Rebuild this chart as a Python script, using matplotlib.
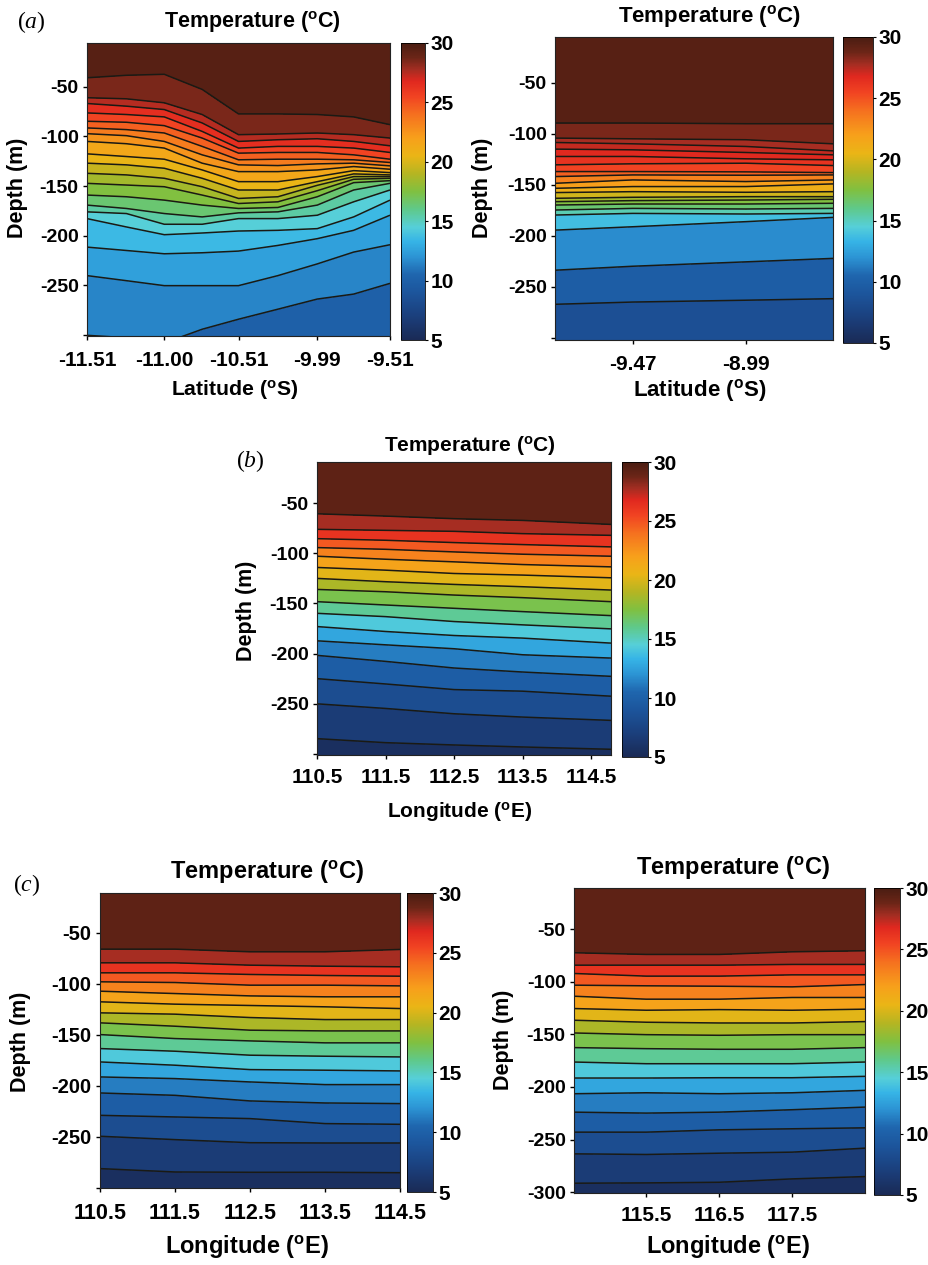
import numpy as np
import matplotlib
matplotlib.use('Agg')
import matplotlib.pyplot as plt
from matplotlib.colors import LinearSegmentedColormap, Normalize
from matplotlib.cm import ScalarMappable

plt.rcParams['font.family'] = ['Liberation Sans', 'DejaVu Sans']
plt.rcParams['font.weight'] = 'bold'
plt.rcParams['mathtext.fontset'] = 'custom'
plt.rcParams['mathtext.bf'] = 'Liberation Sans:bold'
plt.rcParams['mathtext.rm'] = 'Liberation Serif:normal'
plt.rcParams['mathtext.it'] = 'Liberation Serif:italic:normal'

W, H = 929, 1265

# isotherm depths (m), one row per temperature, one column per station
lat_a1 = [-11.51, -11.25, -11.00, -10.75, -10.51, -10.25, -9.99, -9.75, -9.51]
temps_a1 = [29, 28, 27, 26, 25, 24, 23, 22, 21, 20, 19, 18, 17, 16, 15, 14, 13, 12, 11]
depths_a1 = [
    [-41.0, -38.5, -37.5, -52.7, -77.4, -77.4, -78.0, -80.4, -88.2],
    [-61.1, -62.2, -66.2, -78.0, -98.3, -97.6, -96.6, -98.3, -101.7],
    [-66.9, -69.6, -73.0, -86.5, -105.1, -103.4, -102.4, -105.1, -109.5],
    [-76.4, -78.0, -80.4, -95.0, -111.8, -110.1, -110.1, -111.8, -116.2],
    [-84.8, -85.8, -89.2, -101.7, -116.9, -116.2, -116.2, -118.6, -123.0],
    [-91.5, -93.2, -96.6, -110.1, -123.6, -123.0, -123.0, -123.6, -126.3],
    [-97.3, -99.3, -105.1, -118.6, -128.7, -129.4, -127.7, -127.0, -129.7],
    [-105.1, -107.4, -111.8, -127.0, -135.5, -135.5, -133.8, -130.4, -133.1],
    [-117.6, -120.3, -123.0, -133.8, -145.6, -145.6, -140.5, -134.5, -136.5],
    [-127.0, -128.7, -132.1, -142.2, -154.0, -154.0, -145.6, -137.8, -138.8],
    [-137.2, -138.8, -142.2, -150.7, -162.5, -160.8, -149.3, -140.5, -140.5],
    [-147.3, -149.0, -150.7, -159.1, -167.6, -165.9, -154.7, -143.2, -142.2],
    [-159.1, -160.8, -164.2, -169.2, -172.6, -171.6, -160.8, -146.6, -144.6],
    [-169.2, -172.6, -177.7, -181.1, -177.0, -176.0, -169.2, -154.0, -147.3],
    [-176.0, -177.7, -188.5, -188.5, -182.8, -182.8, -179.4, -165.9, -154.0],
    [-182.8, -191.2, -199.0, -197.3, -195.3, -194.6, -192.9, -181.1, -164.2],
    [-211.5, -214.9, -218.2, -217.2, -215.5, -209.8, -203.0, -194.6, -179.4],
    [-240.2, -245.3, -250.3, -250.3, -250.3, -240.2, -228.4, -216.5, -209.1],
    [-300.3, -302.7, -308.0, -294.2, -284.1, -274.0, -263.8, -258.8, -248.0],
]

lat_a2 = [-9.80, -9.47, -8.99, -8.62]
temps_a2 = [29, 28, 27.5, 27, 26.5, 26, 25, 24, 22.5, 21.5, 20.5, 19, 18, 17, 16, 14.5, 13, 10.5, 9]
depths_a2 = [
    [-89.3, -89.3, -90.0, -90.0],
    [-104.1, -104.8, -105.7, -109.7],
    [-108.4, -109.7, -112.3, -116.6],
    [-114.9, -115.6, -118.2, -120.5],
    [-122.1, -122.1, -124.4, -125.4],
    [-130.3, -129.3, -128.7, -131.0],
    [-136.9, -136.9, -137.2, -137.9],
    [-141.8, -140.2, -140.5, -140.2],
    [-148.4, -145.1, -146.7, -145.1],
    [-153.3, -151.6, -151.6, -149.0],
    [-157.5, -156.6, -157.2, -156.6],
    [-163.1, -162.1, -161.5, -161.5],
    [-166.4, -165.4, -164.8, -164.1],
    [-169.7, -168.7, -168.7, -168.0],
    [-174.6, -173.0, -173.6, -173.0],
    [-179.5, -177.9, -178.5, -177.9],
    [-194.3, -191.0, -186.0, -181.8],
    [-233.6, -229.7, -225.4, -222.0],
    [-267.0, -264.8, -263.0, -261.5],
]

temps_lon = [28.5, 27, 25.5, 24, 22.5, 21, 19.5, 18, 16.5, 15, 13.5, 12, 10.5, 9, 7.5, 6]

lon_b = [110.5, 111.5, 112.5, 113.5, 114.79]
depths_b = [
    [-60.6, -62.9, -65.5, -67.2, -71.2],
    [-76.1, -77.1, -78.1, -80.4, -82.1],
    [-85.4, -87.0, -89.3, -91.3, -93.6],
    [-94.3, -96.0, -98.6, -100.9, -102.9],
    [-102.9, -105.9, -108.5, -111.2, -113.5],
    [-114.1, -116.8, -120.1, -121.7, -124.4],
    [-125.0, -128.3, -131.0, -133.3, -136.6],
    [-136.0, -138.3, -141.6, -144.2, -148.2],
    [-148.2, -151.5, -154.8, -158.1, -162.1],
    [-159.8, -163.1, -168.0, -171.3, -175.3],
    [-173.0, -177.9, -181.9, -184.5, -189.5],
    [-187.2, -191.2, -195.1, -201.1, -204.4],
    [-201.7, -207.7, -214.3, -218.3, -222.6],
    [-224.9, -230.2, -235.8, -237.4, -242.4],
    [-250.0, -254.6, -259.9, -263.2, -266.5],
    [-284.7, -288.7, -291.0, -293.0, -295.3],
]

lon_c1 = [110.5, 111.5, 112.5, 113.5, 114.5]
depths_c1 = [
    [-66.0, -66.0, -68.6, -68.6, -66.3],
    [-79.4, -79.4, -81.7, -82.7, -83.3],
    [-89.2, -89.2, -90.8, -91.8, -92.5],
    [-98.0, -98.7, -101.3, -101.3, -102.0],
    [-107.2, -109.5, -111.8, -112.7, -112.7],
    [-117.6, -119.9, -121.2, -122.5, -124.2],
    [-128.4, -129.7, -133.0, -135.0, -135.0],
    [-138.2, -141.5, -145.4, -146.1, -146.1],
    [-149.7, -153.6, -155.9, -157.8, -157.8],
    [-163.4, -166.0, -169.9, -170.9, -171.6],
    [-176.5, -179.7, -184.0, -184.6, -185.3],
    [-191.2, -192.8, -196.1, -198.7, -198.7],
    [-206.9, -209.2, -214.7, -216.7, -217.3],
    [-228.8, -230.4, -232.0, -236.9, -237.6],
    [-249.3, -252.6, -255.6, -255.9, -255.9],
    [-281.0, -284.3, -284.6, -284.6, -285.0],
]

lon_c2 = [114.51, 115.5, 116.5, 117.5, 118.5]
depths_c2 = [
    [-72.5, -74.1, -74.1, -71.6, -70.6],
    [-84.3, -84.3, -84.3, -83.6, -83.6],
    [-92.2, -94.7, -94.7, -93.5, -93.5],
    [-103.3, -103.9, -104.3, -104.9, -102.7],
    [-113.8, -116.6, -116.6, -115.0, -115.0],
    [-125.5, -127.1, -126.5, -127.1, -126.1],
    [-136.6, -138.5, -139.2, -139.2, -137.9],
    [-148.7, -150.3, -150.9, -150.3, -150.3],
    [-162.6, -163.6, -164.2, -164.2, -162.6],
    [-176.3, -177.9, -177.9, -177.9, -176.3],
    [-191.5, -191.5, -191.2, -191.2, -189.9],
    [-206.4, -205.5, -206.4, -205.5, -203.2],
    [-223.9, -224.8, -223.9, -221.6, -219.1],
    [-242.9, -242.9, -240.7, -239.7, -238.8],
    [-263.5, -264.1, -262.9, -261.9, -258.1],
    [-291.4, -291.1, -290.5, -287.3, -285.1],
]

depth_ticks = [-50, -100, -150, -200, -250, -300]
cbar_ticks = [5, 10, 15, 20, 25, 30]

cmap_temps = [5, 7, 9, 10.5, 12, 13.3, 14.5, 16, 17.5, 19, 20.5, 22, 24, 25.5, 26.8, 27.8, 28.8, 30]
cmap_colors = ['#1a2a55', '#1b3f7c', '#1c559c', '#1f66ae', '#2c94d4', '#36b4e6', '#56cfd8',
               '#5fc98a', '#80c040', '#b5b522', '#eab516', '#f7a01b', '#f5701f', '#f14322',
               '#e0281f', '#a32d22', '#6b2517', '#4a1d12']
cmap = LinearSegmentedColormap.from_list(
    'sst', [((t - 5) / 25, c) for t, c in zip(cmap_temps, cmap_colors)], N=512)
norm = Normalize(5, 30)

fig = plt.figure(figsize=(W / 100, H / 100), dpi=100)


def px_axes(x0, y0, x1, y1):
    return fig.add_axes([x0 / W, 1 - y1 / H, (x1 - x0) / W, (y1 - y0) / H])


def put(x, y, s, **kw):
    return fig.text(x / W, 1 - y / H, s, ha='center', va='center', **kw)


def panel(box, cbox, stations, temps, depths, bottom, ylim, xticks, xlabels, pad, xlabel,
          title_xy, title_size, xlabel_xy, xlabel_size, ylabel_xy, label_size=15, lab_bottom=False):
    ax = px_axes(*box)
    # rows run warm to cold, with a surface row on top and a row below the axis
    row_t = [30] + list(temps) + [bottom]
    top = [0] * len(stations)
    low = [-340] * len(stations)
    Z = np.array([top] + depths + [low], dtype=float)
    T = np.array([[t] * len(stations) for t in row_t], dtype=float)
    X = np.array([stations] * len(row_t), dtype=float)
    levels = sorted(row_t)
    ax.contourf(X, Z, T, levels=levels, cmap=cmap, norm=norm)
    ax.contour(X, Z, T, levels=sorted(temps), colors='#1a1a14', linewidths=1.1)
    ax.set_xlim(stations[0], stations[-1])
    ax.set_ylim(*ylim)
    ax.set_xticks(xticks)
    ax.set_xticklabels(xlabels)
    ax.set_yticks(depth_ticks[:6])
    ax.set_yticklabels([str(d) if d != -300 or lab_bottom else '' for d in depth_ticks])
    ax.tick_params(axis='x', length=3, width=1, labelsize=label_size, pad=pad)
    ax.tick_params(axis='y', length=3, width=1, labelsize=label_size - 1, pad=3)
    for s in ax.spines.values():
        s.set_linewidth(0.8)
        s.set_color('#222222')

    cax = px_axes(*cbox)
    cb = fig.colorbar(ScalarMappable(norm=norm, cmap=cmap), cax=cax, ticks=cbar_ticks)
    cb.ax.tick_params(length=2, width=0.8, labelsize=15, pad=2)
    cb.outline.set_linewidth(0.6)

    put(*title_xy, r'Temperature ($\mathbf{^{o}}$C)', fontsize=title_size, fontweight='bold')
    put(*xlabel_xy, xlabel, fontsize=xlabel_size, fontweight='bold')
    put(*ylabel_xy, 'Depth (m)', fontsize=15.5, fontweight='bold', rotation=90)


panel((87, 43, 390, 336), (401, 43, 425, 340), lat_a1, temps_a1, depths_a1, 9, (-301, -6),
      [-11.51, -11.00, -10.51, -9.99, -9.51], ['-11.51', '-11.00', '-10.51', '-9.99', '-9.51'],
      8, r'Latitude ($\mathbf{^{o}}$S)', (252, 22), 15.5, (235, 390), 15.3, (18, 188))
panel((555, 37, 833, 340), (843, 37, 873, 343), lat_a2, temps_a2, depths_a2, 8, (-302, -5),
      [-9.47, -8.99], ['-9.47', '-8.99'],
      8, r'Latitude ($\mathbf{^{o}}$S)', (710, 16), 16, (700, 390), 16, (483, 188))
panel((317, 462, 611, 755), (622, 462, 648, 757), lon_b, temps_lon, depths_b, 5, (-301, -9),
      [110.5, 111.5, 112.5, 113.5, 114.5], ['110.5', '111.5', '112.5', '113.5', '114.5'],
      6.5, r'Longitude ($\mathbf{^{o}}$E)', (470, 446), 15, (460, 812), 15, (247, 611))
panel((100, 893, 400, 1188), (407, 893, 433, 1192), lon_c1, temps_lon, depths_c1, 5, (-300, -11),
      [110.5, 111.5, 112.5, 113.5, 114.5], ['110.5', '111.5', '112.5', '113.5', '114.5'],
      8, r'Longitude ($\mathbf{^{o}}$E)', (267, 872), 17, (247, 1247), 17, (21, 1042), 15.5)
panel((574, 888, 865, 1193), (874, 888, 900, 1195), lon_c2, temps_lon, depths_c2, 5, (-300.7, -11),
      [115.5, 116.5, 117.5], ['115.5', '116.5', '117.5'],
      6.5, r'Longitude ($\mathbf{^{o}}$E)', (733, 868), 17, (728, 1247), 17, (503, 1040), 15, True)

put(31, 22, r'$\mathrm{(}\mathit{a}\mathrm{)}$', fontsize=17)
put(250, 461, r'$\mathrm{(}\mathit{b}\mathrm{)}$', fontsize=17)
put(27, 885, r'$\mathrm{(}\mathit{c}\mathrm{)}$', fontsize=17)

fig.savefig('out.png', dpi=100)
